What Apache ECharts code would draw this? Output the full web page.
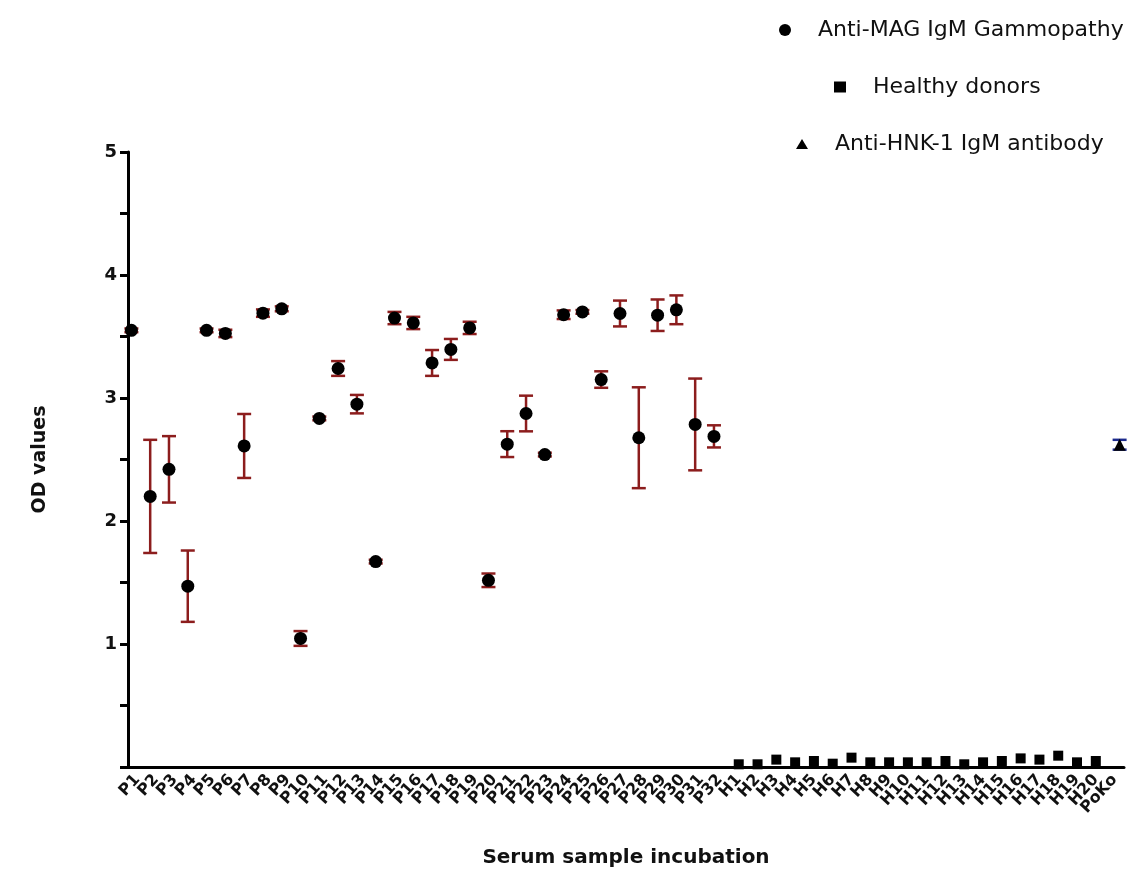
<!DOCTYPE html>
<html>
<head>
<meta charset="utf-8">
<script src="https://cdn.jsdelivr.net/npm/echarts@6/dist/echarts.min.js"></script>
<style>html,body{margin:0;padding:0;background:#fff;}#c{width:1127px;height:871px;}</style>
</head>
<body>
<div id="c"></div>
<script>
var patientLabels = ['P1','P2','P3','P4','P5','P6','P7','P8','P9','P10','P11','P12','P13','P14','P15','P16','P17','P18','P19','P20','P21','P22','P23','P24','P25','P26','P27','P28','P29','P30','P31','P32'];
var donorLabels = ['H1','H2','H3','H4','H5','H6','H7','H8','H9','H10','H11','H12','H13','H14','H15','H16','H17','H18','H19','H20'];
var controlLabels = ['PoKo'];

var gammopathyMean = [3.55,2.20,2.42,1.47,3.55,3.525,2.61,3.69,3.725,1.045,2.834,3.24,2.95,1.67,3.65,3.61,3.285,3.395,3.57,1.518,2.625,2.874,2.54,3.677,3.70,3.15,3.687,2.677,3.673,3.717,2.785,2.688];
var gammopathyErr  = [0.015,0.46,0.27,0.29,0.015,0.03,0.26,0.03,0.02,0.06,0.015,0.06,0.075,0.015,0.05,0.05,0.105,0.085,0.05,0.055,0.105,0.145,0.015,0.035,0.015,0.067,0.105,0.41,0.128,0.117,0.373,0.09];
var donorMean = [0.022,0.022,0.06,0.038,0.049,0.027,0.076,0.038,0.038,0.038,0.038,0.049,0.022,0.038,0.049,0.07,0.06,0.092,0.038,0.049];
var controlMean = [2.62];
var controlErr = [0.04];

var categories = patientLabels.concat(donorLabels, controlLabels);
var yTicks = [1,2,3,4,5];

var font = '"DejaVu Sans", "Liberation Sans", Arial, sans-serif';
var circleOffset = -6, triOffset = 5;

function pts(labels, vals){ return labels.map(function(l,i){ return [l, vals[i]]; }); }
function errs(labels, vals, e){ return labels.map(function(l,i){ return [categories.indexOf(l), vals[i]-e[i], vals[i]+e[i]]; }); }

function errRender(offset, color){
  return function(params, api){
    var lo = api.coord([api.value(0), api.value(1)]);
    var hi = api.coord([api.value(0), api.value(2)]);
    var x = lo[0] + offset, hw = 7;
    var st = {stroke: color, lineWidth: 2.5};
    return {type:'group', children:[
      {type:'line', shape:{x1:x,y1:hi[1],x2:x,y2:lo[1]}, style:st},
      {type:'line', shape:{x1:x-hw,y1:hi[1],x2:x+hw,y2:hi[1]}, style:st},
      {type:'line', shape:{x1:x-hw,y1:lo[1],x2:x+hw,y2:lo[1]}, style:st}
    ]};
  };
}

var legendText = {fontFamily: font, fontSize: 22, color: '#111', padding: [0,0,0,22]};
var chart = echarts.init(document.getElementById('c'), null, {renderer:'canvas'});
chart.setOption({
  animation: false,
  backgroundColor: '#fff',
  legend: [
    {data:['Anti-MAG IgM Gammopathy'], left: 774, top: 14, itemWidth: 12, itemHeight: 12, textStyle: legendText},
    {data:['Healthy donors'], left: 829, top: 71, itemWidth: 12, itemHeight: 11, textStyle: legendText},
    {data:['Anti-HNK-1 IgM antibody'], left: 791, top: 128, itemWidth: 12, itemHeight: 10, textStyle: legendText}
  ],
  grid: {left: 128, top: 152, width: 996, height: 615, outerBoundsMode: 'none', containLabel: false},
  xAxis: {
    type: 'category', data: categories, boundaryGap: true,
    name: 'Serum sample incubation', nameLocation: 'middle', nameGap: 81,
    nameTextStyle: {fontFamily: font, fontSize: 20, fontWeight: 'bold', color: '#111'},
    axisLine: {lineStyle: {color: '#000', width: 3}},
    axisTick: {alignWithLabel: true, length: 8, lineStyle: {color:'#000', width: 3}},
    axisLabel: {interval: 0, rotate: 48, margin: 10, fontFamily: font, fontSize: 16, fontWeight: 'bold', color: '#111'},
    splitLine: {show: false}
  },
  yAxis: {
    type: 'value', min: 0, max: 5, interval: 0.5,
    name: 'OD values', nameLocation: 'middle', nameGap: 78, nameRotate: 90,
    nameTextStyle: {fontFamily: font, fontSize: 19, fontWeight: 'bold', color: '#111'},
    axisLine: {show: true, lineStyle: {color: '#000', width: 3}},
    axisTick: {show: true, length: 8, lineStyle: {color:'#000', width: 3}},
    axisLabel: {margin: 11, fontFamily: font, fontSize: 18, fontWeight: 'bold', color: '#111',
      formatter: function(v){ return yTicks.indexOf(v) >= 0 ? String(v) : ''; }},
    splitLine: {show: false}
  },
  series: [
    {type:'custom', name:'gamErr', renderItem: errRender(circleOffset, '#8c1d1d'), data: errs(patientLabels, gammopathyMean, gammopathyErr), z: 2, silent: true},
    {type:'custom', name:'ctlErr', renderItem: errRender(triOffset, '#1c2a8c'), data: errs(controlLabels, controlMean, controlErr), z: 2, silent: true},
    {type:'scatter', name:'Anti-MAG IgM Gammopathy', symbol:'circle', symbolSize: 13, symbolOffset:[circleOffset,0],
      itemStyle:{color:'#000', opacity: 1}, data: pts(patientLabels, gammopathyMean), z: 3},
    {type:'scatter', name:'Healthy donors', symbol:'rect', symbolSize: 10,
      itemStyle:{color:'#000', opacity: 1}, data: pts(donorLabels, donorMean), z: 3},
    {type:'scatter', name:'Anti-HNK-1 IgM antibody', symbol:'triangle', symbolSize: 12, symbolOffset:[triOffset,0],
      itemStyle:{color:'#000', opacity: 1}, data: pts(controlLabels, controlMean), z: 3}
  ]
});
</script>
</body>
</html>
